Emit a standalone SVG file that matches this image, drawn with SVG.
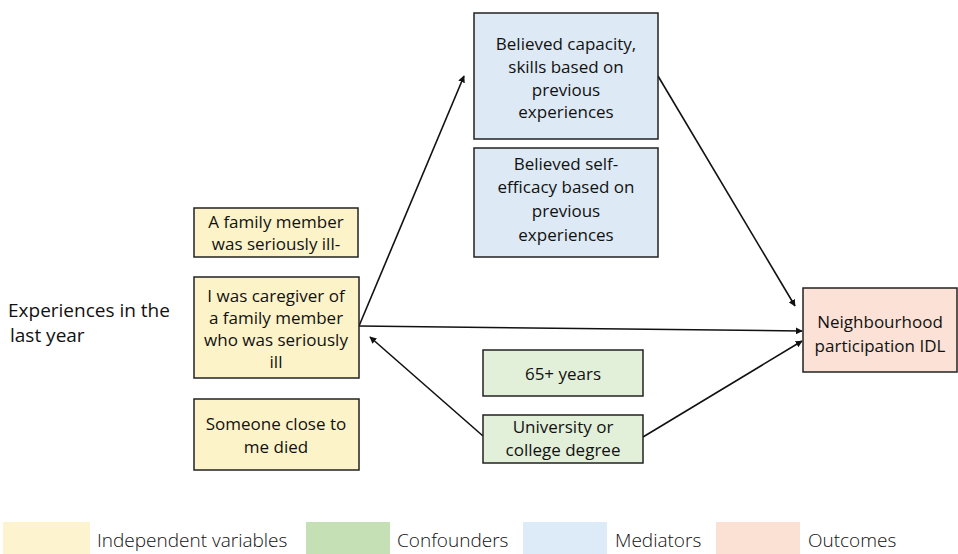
<svg xmlns="http://www.w3.org/2000/svg" width="958" height="554" viewBox="0 0 958 554">
<defs>
<style>
.box{stroke:#222;stroke-width:1.5}
.y{fill:#fdf3c8}.b{fill:#dde9f5}.g{fill:#e2efd9}.o{fill:#fbe1d6}
.t{font-family:"Open Sans","Noto Sans",sans-serif;font-size:17px;fill:#111;text-anchor:middle}
.l{font-family:"Open Sans","Noto Sans",sans-serif;font-size:19px;fill:#111}
.lg{font-family:"Open Sans","Noto Sans",sans-serif;font-size:19px;fill:#111;font-weight:300}
.c{stroke:#111;stroke-width:1.6;fill:none;marker-end:url(#ah)}
</style>
<marker id="ah" viewBox="0 0 10 10" refX="9" refY="5" markerWidth="7" markerHeight="7" orient="auto-start-reverse" markerUnits="userSpaceOnUse">
<path d="M0,0 L10,5 L0,10 z" fill="#111"/>
</marker>
</defs>
<rect width="958" height="554" fill="#fff"/>
<text class="l" x="8" y="317">Experiences in the</text>
<text class="l" x="10" y="342">last year</text>
<g id="connectors">
<line class="c" x1="359" y1="326" x2="464" y2="76"/>
<line class="c" x1="359" y1="326" x2="802" y2="331"/>
<line class="c" x1="658" y1="76" x2="795" y2="306"/>
<line class="c" x1="483" y1="436" x2="370" y2="337"/>
<line class="c" x1="643" y1="437" x2="802" y2="341"/>
</g>
<g id="n_family_ill">
<rect class="box y" x="194" y="208" width="164" height="49"/>
<text class="t" x="276" y="228">A family member</text>
<text class="t" x="276" y="250">was seriously ill-</text>
</g>
<g id="n_caregiver">
<rect class="box y" x="194" y="277" width="165" height="101"/>
<text class="t" x="276" y="302">I was caregiver of</text>
<text class="t" x="276" y="324">a family member</text>
<text class="t" x="276" y="346">who was seriously</text>
<text class="t" x="276" y="368">ill</text>
</g>
<g id="n_someone_died">
<rect class="box y" x="194" y="399" width="165" height="71"/>
<text class="t" x="276" y="430">Someone close to</text>
<text class="t" x="276" y="453">me died</text>
</g>
<g id="n_capacity">
<rect class="box b" x="474" y="13" width="184" height="126"/>
<text class="t" x="566" y="50">Believed capacity,</text>
<text class="t" x="566" y="73">skills based on</text>
<text class="t" x="566" y="96">previous</text>
<text class="t" x="566" y="118">experiences</text>
</g>
<g id="n_selfefficacy">
<rect class="box b" x="474" y="148" width="184" height="109"/>
<text class="t" x="566" y="170">Believed self-</text>
<text class="t" x="566" y="193">efficacy based on</text>
<text class="t" x="566" y="217">previous</text>
<text class="t" x="566" y="241">experiences</text>
</g>
<g id="n_65">
<rect class="box g" x="483" y="350" width="160" height="46"/>
<text class="t" x="563" y="380">65+ years</text>
</g>
<g id="n_university">
<rect class="box g" x="483" y="415" width="160" height="48"/>
<text class="t" x="563" y="433">University or</text>
<text class="t" x="563" y="456">college degree</text>
</g>
<g id="n_outcome">
<rect class="box o" x="803" y="288" width="154" height="84"/>
<text class="t" x="880" y="328">Neighbourhood</text>
<text class="t" x="880" y="352">participation IDL</text>
</g>
<g id="legend">
<rect x="3" y="522" width="87" height="32" fill="#fdf3cf"/>
<text class="lg" x="97" y="547">Independent variables</text>
<rect x="306" y="522" width="84" height="32" fill="#c5e0b4"/>
<text class="lg" x="397" y="547">Confounders</text>
<rect x="523" y="522" width="84" height="32" fill="#dcebf7"/>
<text class="lg" x="615" y="547">Mediators</text>
<rect x="716" y="522" width="84" height="32" fill="#fbe0d4"/>
<text class="lg" x="808" y="547">Outcomes</text>
</g>
</svg>
